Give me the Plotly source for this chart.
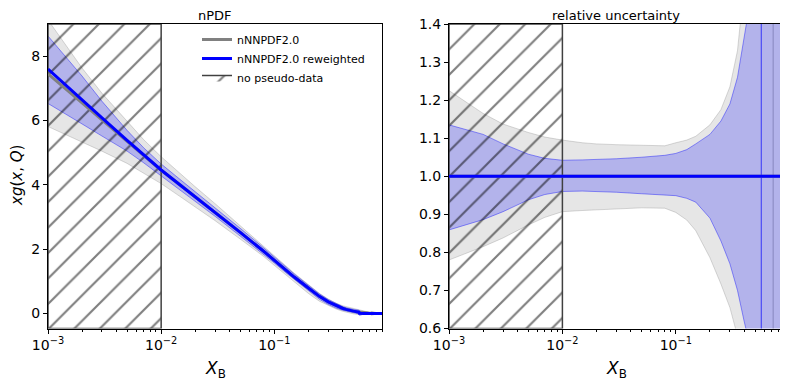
import numpy as np
import plotly.graph_objects as go
from plotly.subplots import make_subplots

# x grid (Bjorken x)
x = [0.001, 0.0015, 0.002, 0.003, 0.005, 0.007, 0.01, 0.015, 0.02, 0.03, 0.05, 0.08,
     0.1, 0.125, 0.15, 0.2, 0.25, 0.3, 0.35, 0.4, 0.43, 0.46, 0.5, 0.55, 0.56, 0.565,
     0.57, 0.62, 0.68, 0.715, 0.72, 0.725, 0.8, 0.9]

# central values xg(x,Q)
gray_c = [7.45, 6.92, 6.55, 6.02, 5.35, 4.9, 4.45, 3.97, 3.63, 3.15, 2.52, 1.94,
          1.65, 1.36, 1.13, 0.79, 0.53, 0.36, 0.24, 0.16, 0.125, 0.095, 0.07, 0.045, 0.04, 0.038,
          0.036, 0.025, 0.012, 0.005, 0.001, -0.001, -0.004, -0.005]
blue_c = [7.6, 7.05, 6.65, 6.08, 5.38, 4.92, 4.46, 3.97, 3.63, 3.15, 2.52, 1.94,
          1.65, 1.36, 1.13, 0.79, 0.53, 0.36, 0.24, 0.16, 0.125, 0.095, 0.07, 0.045, 0.04, 0.001,
          -0.001, -0.006, -0.006, -0.005, -0.005, -0.005, -0.005, -0.005]

# relative uncertainty bands (band / central)
gray_hi = [1.225, 1.19, 1.165, 1.137, 1.115, 1.103, 1.095, 1.088, 1.085, 1.083, 1.081, 1.08,
           1.088, 1.095, 1.105, 1.135, 1.175, 1.235, 1.33, 1.5, 1.7, 2.0, 2.4, 3.0, 3.2, 3.3,
           3.3, 3.5, 3.8, 4.0, 60, -60, -2.0, -2.0]
gray_lo = [0.78, 0.80, 0.815, 0.838, 0.872, 0.892, 0.907, 0.91, 0.912, 0.915, 0.917, 0.916,
           0.905, 0.885, 0.857, 0.786, 0.717, 0.655, 0.58, 0.42, 0.3, 0.1, -0.2, -0.8, -1.0, -1.1,
           -1.1, -1.4, -1.8, -2.0, -60, 60, 4.0, 4.0]
blue_hi = [1.135, 1.12, 1.11, 1.085, 1.058, 1.047, 1.042, 1.043, 1.044, 1.046, 1.05, 1.055,
           1.06, 1.07, 1.085, 1.11, 1.145, 1.19, 1.26, 1.36, 1.42, 1.55, 1.8, 2.3, 2.5, 60,
           -60, -1.0, -1.0, -1.0, -1.0, -1.0, -1.0, -1.0]
blue_lo = [0.859, 0.875, 0.886, 0.907, 0.938, 0.952, 0.96, 0.961, 0.96, 0.958, 0.954, 0.951,
           0.949, 0.942, 0.932, 0.89, 0.83, 0.77, 0.70, 0.62, 0.58, 0.5, 0.3, -0.2, -0.4, -60,
           60, 2.8, 3.0, 3.0, 3.0, 3.0, 3.0, 3.0]

no_data_x = [1e-3, 1e-2]

x_tickvals = [1e-3, 1e-2, 1e-1]
x_ticktext = ["10<sup>\u22123</sup>", "10<sup>\u22122</sup>", "10<sup>\u22121</sup>"]

GRAY = "#808080"
BLUE = "#0000ff"
GRAY_FILL = "rgba(128,128,128,0.2)"
BLUE_FILL = "rgba(0,0,255,0.22)"
GRAY_EDGE = "rgba(128,128,128,0.3)"
BLUE_EDGE = "rgba(0,0,255,0.4)"
FONT = "DejaVu Sans"

W, H = 788, 384
OFF = 8  # page body margin of the html page


def px(v):
    return (v - OFF) / W


def py(v):
    return 1 - (v - OFF) / H


yr_left = [-0.47, 9.0]
yr_right = [0.6, 1.4]

fig = make_subplots(rows=1, cols=2)

xa = np.array(x)
panels = [
    (1, np.array(gray_c), np.array(blue_c), yr_left),
    (2, np.ones(len(x)), np.ones(len(x)), yr_right),
]
for col, gc, bc, yr in panels:
    for c, lo, hi, fc, ec in [(gc, gray_lo, gray_hi, GRAY_FILL, GRAY_EDGE),
                              (bc, blue_lo, blue_hi, BLUE_FILL, BLUE_EDGE)]:
        if col == 1:
            ylo = np.array(c) * np.array(lo)
            yhi = np.array(c) * np.array(hi)
        else:
            ylo, yhi = lo, hi
        fig.add_trace(go.Scatter(x=xa, y=ylo, mode="lines", line=dict(color=ec, width=1),
                                 showlegend=False, hoverinfo="skip"), row=1, col=col)
        fig.add_trace(go.Scatter(x=xa, y=yhi, mode="lines", line=dict(color=ec, width=1),
                                 fill="tonexty", fillcolor=fc,
                                 showlegend=False, hoverinfo="skip"), row=1, col=col)
    # hatched region without pseudo-data
    fig.add_trace(go.Scatter(
        x=[no_data_x[0], no_data_x[1], no_data_x[1], no_data_x[0], no_data_x[0]],
        y=[yr[0], yr[0], yr[1], yr[1], yr[0]],
        mode="lines", fill="toself", fillcolor="rgba(0,0,0,0)",
        fillpattern=dict(shape="/", fgcolor="black", bgcolor="rgba(0,0,0,0)",
                         size=18, solidity=0.12),
        line=dict(color="#404040", width=1.5),
        name="no pseudo-data", legendrank=3, showlegend=(col == 1), hoverinfo="skip"),
        row=1, col=col)
    fig.add_trace(go.Scatter(x=xa, y=gc, mode="lines", line=dict(color=GRAY, width=3),
                             name="nNNPDF2.0", legendrank=1, showlegend=(col == 1)),
                  row=1, col=col)
    fig.add_trace(go.Scatter(x=xa, y=bc, mode="lines", line=dict(color=BLUE, width=3),
                             name="nNNPDF2.0 reweighted", legendrank=2, showlegend=(col == 1)),
                  row=1, col=col)

axis_common = dict(showline=True, mirror=True, linecolor="black", linewidth=1,
                   ticks="outside", ticklen=4, tickwidth=1, tickcolor="black",
                   showgrid=False, zeroline=False, automargin=False,
                   tickfont=dict(family=FONT, size=14, color="black"))

minor_vals = [m * 10.0 ** e for e in (-3, -2, -1) for m in range(2, 10)]
fig.update_xaxes(type="log", range=[-3, np.log10(0.9)],
                 tickmode="array", tickvals=x_tickvals, ticktext=x_ticktext,
                 minor=dict(ticks="outside", ticklen=2, tickcolor="black",
                            tickvals=minor_vals, showgrid=False),
                 **axis_common)
fig.update_xaxes(domain=[px(48), px(382.3)], row=1, col=1)
fig.update_xaxes(domain=[px(449), px(784)], row=1, col=2)
fig.update_yaxes(domain=[py(328.5), py(24)], **axis_common)
fig.update_yaxes(range=yr_left, tickvals=[0, 2, 4, 6, 8], row=1, col=1)
fig.update_yaxes(range=yr_right, dtick=0.1, tickformat=".1f", row=1, col=2)

ann = dict(showarrow=False, xref="paper", yref="paper", xanchor="center", yanchor="middle",
           font=dict(family=FONT, size=13, color="black"))
fig.add_annotation(text="nPDF", x=px(215), y=py(15.5), **ann)
fig.add_annotation(text="relative uncertainty", x=px(616), y=py(15.5), **ann)
lab = dict(ann)
lab["font"] = dict(family=FONT, size=17, color="black")
fig.add_annotation(text="<i>X</i><sub>B</sub>", x=px(215), y=py(369), **lab)
fig.add_annotation(text="<i>X</i><sub>B</sub>", x=px(616), y=py(369), **lab)
ylab = dict(ann)
ylab["font"] = dict(family=FONT, size=15, color="black")
fig.add_annotation(text="<i>xg</i>(<i>x</i>, <i>Q</i>)", x=px(17), y=py(176),
                   textangle=-90, **ylab)

fig.update_layout(
    width=W, height=H,
    margin=dict(l=0, r=0, t=0, b=0, autoexpand=False),
    plot_bgcolor="white", paper_bgcolor="white",
    font=dict(family=FONT),
    showlegend=True,
    legend=dict(x=px(197), y=py(25), xanchor="left", yanchor="top",
                bgcolor="rgba(0,0,0,0)", borderwidth=0, traceorder="normal",
                font=dict(family=FONT, size=11, color="black"), tracegroupgap=0),
)

fig.write_html("out.html")
